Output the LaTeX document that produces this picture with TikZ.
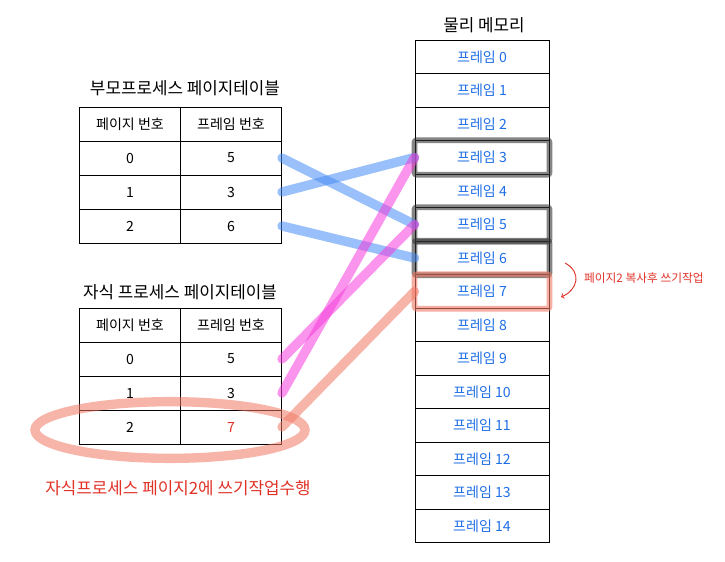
\documentclass[tikz,border=0pt]{standalone}
\usepackage{fontspec}
\newfontfamily\kr{Noto Sans CJK KR}
\definecolor{framblue}{RGB}{30,110,230}
\definecolor{linkblue}{RGB}{70,140,245}
\definecolor{linkpink}{RGB}{245,60,220}
\definecolor{salmon}{RGB}{240,120,100}
\definecolor{notered}{RGB}{225,50,40}
\begin{document}
\begin{tikzpicture}[x=0.03cm,y=-0.03cm,
  every node/.style={font=\kr\Large},
  frame/.style={draw,thick,minimum width=4.02cm,minimum height=1.005cm,text=framblue,font=\kr\large},
  cell/.style={draw,thick,minimum width=3.03cm,minimum height=1.02cm,font=\kr\large},
  link/.style={line width=8pt,line cap=round,opacity=0.55},
  sharebox/.style={line width=5pt,rounded corners=2pt,opacity=0.6}]
\useasboundingbox (0,0) rectangle (725,562);

% physical memory
\node (mem) at (484,25) {물리 메모리};
\foreach \i in {0,...,14}
  \node[frame] (f\i) at (482,57+33.5*\i) {프레임 \i};

% parent page table
\node (ptitle) at (185,88) {부모프로세스 페이지테이블};
\node[cell] (ph1) at (130,124) {페이지 번호};
\node[cell] (ph2) at (231,124) {프레임 번호};
\node[cell] (pp0) at (130,158) {0};
\node[cell] (pf0) at (231,158) {5};
\node[cell] (pp1) at (130,192) {1};
\node[cell] (pf1) at (231,192) {3};
\node[cell] (pp2) at (130,226) {2};
\node[cell] (pf2) at (231,226) {6};

% child page table
\node (ctitle) at (180,292) {자식 프로세스 페이지테이블};
\node[cell] (ch1) at (130,325) {페이지 번호};
\node[cell] (ch2) at (231,325) {프레임 번호};
\node[cell] (cp0) at (130,359) {0};
\node[cell] (cf0) at (231,359) {5};
\node[cell] (cp1) at (130,393) {1};
\node[cell] (cf1) at (231,393) {3};
\node[cell] (cp2) at (130,427) {2};
\node[cell,text=notered] (cf2) at (231,427) {7};

% shared frames
\draw[sharebox,black!80] (f3.north west) rectangle (f3.south east);
\draw[sharebox,black!80] (f5.north west) rectangle (f5.south east);
\draw[sharebox,black!80] (f6.north west) rectangle (f6.south east);
\draw[sharebox,salmon] (f7.north west) rectangle (f7.south east);

% mappings
\draw[link,linkblue] (pf0.east) -- (f5.west);
\draw[link,linkblue] (pf1.east) -- (f3.west);
\draw[link,linkblue] (pf2.east) -- (f6.west);
\draw[link,linkpink] (cf0.east) -- (f5.west);
\draw[link,linkpink] (cf1.east) -- (f3.west);
\draw[link,salmon] (cf2.east) -- (f7.west);

% write on page 2
\draw[link,salmon] (170,430) ellipse [x radius=4.05cm,y radius=0.85cm];
\node[text=notered] (wnote) at (178,488) {자식프로세스 페이지2에 쓰기작업수행};
\node[text=notered,font=\kr,anchor=west] (cnote) at (580,278) {페이지2 복사후 쓰기작업};
\draw[->,thick,notered] (565,263) .. controls (582,272) and (578,290) .. (561,297);
\end{tikzpicture}
\end{document}
